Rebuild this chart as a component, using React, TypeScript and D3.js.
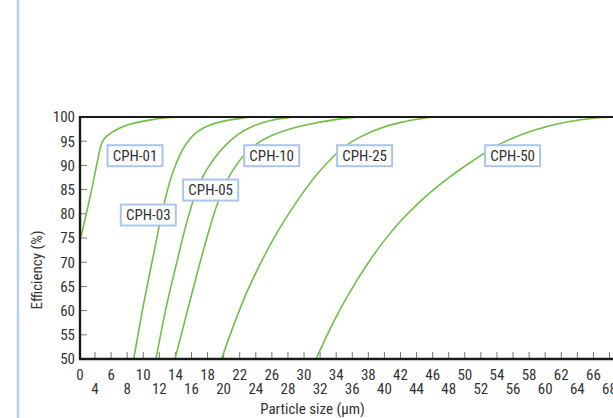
import React from "react";
import * as d3 from "d3";

// ---- data ----
const cph01: [number, number][] = [
  [0.27, 75.3], [2.05, 81.2], [3.39, 86.0], [4.21, 90.1], [4.62, 93.6], [4.96, 95.3],
  [5.58, 96.3], [6.61, 97.4], [8.27, 98.6], [10.75, 99.4], [13.24, 99.9], [14.1, 100],
];
const cph03: [number, number][] = [
  [8.81, 50], [9.81, 59.4], [10.63, 66.3], [11.46, 73.0], [12.0, 77.6], [12.42, 80.9],
  [13.04, 85.2], [13.66, 88.6], [14.49, 92.1], [15.32, 94.6], [16.56, 97.0], [18.22, 98.4],
  [19.88, 99.2], [23.3, 100],
];
const cph05: [number, number][] = [
  [11.59, 50], [12.5, 58.1], [13.33, 64.3], [14.16, 69.8], [14.98, 75.6], [15.9, 81.3],
  [17.06, 87.0], [18.7, 91.3], [20.3, 94.4], [21.8, 96.5], [23.3, 98.0], [26.0, 99.5], [28.7, 100],
];
const cph10: [number, number][] = [
  [13.95, 50], [15.41, 59.4], [16.65, 67.4], [18.22, 77.0], [19.55, 84.0], [21.2, 89.6],
  [23.28, 93.6], [25.36, 96.0], [29.5, 98.3], [34.47, 99.7], [37.0, 100],
];
const cph25: [number, number][] = [
  [19.74, 50], [20.79, 55.0], [22.04, 60.5], [23.28, 65.5], [26.4, 75.8], [29.5, 83.6],
  [31.58, 88.3], [34.06, 92.6], [35.7, 94.8], [38.6, 97.3], [41.9, 99.0], [46.0, 100],
];
const cph50: [number, number][] = [
  [31.5, 50], [33.64, 57.8], [35.72, 64.0], [37.79, 69.5], [39.86, 74.3], [41.93, 78.5],
  [44.0, 81.9], [46.08, 85.0], [48.15, 87.7], [50.23, 90.1], [52.3, 92.4], [54.37, 94.6],
  [58.51, 97.4], [62.67, 99.1], [66.8, 99.9], [68.0, 100],
];
const seriesNames = ["CPH-01", "CPH-03", "CPH-05", "CPH-10", "CPH-25", "CPH-50"];
const seriesData = [cph01, cph03, cph05, cph10, cph25, cph50];
// label box centres in data units
const labelX = [8.98, 10.63, 18.39, 25.98, 37.54, 55.95];
const labelY = [92.0, 79.75, 84.9, 92.0, 92.0, 92.0];

const xTickValues = d3.range(4, 69, 2);
const xLabelTop = [0, ...d3.range(6, 67, 4)];
const xLabelBottom = d3.range(4, 69, 4);
const yTickValues = d3.range(50, 101, 5);

const W = 613;
const H = 418;
const FONT = "'Liberation Sans Narrow','Arial Narrow','Roboto Condensed','DejaVu Sans Condensed',sans-serif";
const TEXT = "#333";
const GREEN = "#70bf47";
const BOXBLUE = "#a9c6ea";

export default function App() {
  const x = d3.scaleLinear().domain([0, 4, 68]).range([80, 95, 609.5]);
  const y = d3.scaleLinear().domain([50, 100]).range([359, 117]);
  const line = d3
    .line<[number, number]>()
    .x((d) => x(d[0]))
    .y((d) => y(d[1]))
    .curve(d3.curveBasis);

  const boxW = 55;
  const boxH = 21;

  return (
    <svg
      width={W}
      height={H}
      style={{ position: "absolute", left: 0, top: 0, background: "#fff" }}
      fontFamily={FONT}
    >
      <rect x={0} y={0} width={W} height={H} fill="#fff" />
      <line x1={18} x2={18} y1={0} y2={H} stroke="#b9d1ee" strokeWidth={2.5} />

      {/* x ticks (inward) */}
      {xTickValues.map((v) => (
        <line key={"xt" + v} x1={x(v)} x2={x(v)} y1={y(50)} y2={y(50) - 7} stroke="#777" strokeWidth={1} />
      ))}
      {/* y ticks (inward) */}
      {yTickValues.map((v) => (
        <line key={"yt" + v} x1={x(0)} x2={x(0) + 7} y1={y(v)} y2={y(v)} stroke="#777" strokeWidth={1} />
      ))}

      {/* curves */}
      {seriesData.map((d, i) => (
        <path key={seriesNames[i]} d={line(d) || ""} fill="none" stroke={GREEN} strokeWidth={1.6} />
      ))}

      {/* frame */}
      <line x1={x(0)} x2={W} y1={y(100)} y2={y(100)} stroke="#1a1a1a" strokeWidth={2.2} />
      <line x1={x(0) - 1} x2={W} y1={y(50)} y2={y(50)} stroke="#1a1a1a" strokeWidth={2.6} />
      <line x1={x(0)} x2={x(0)} y1={y(100) - 1} y2={y(50)} stroke="#1a1a1a" strokeWidth={2.4} />

      {/* y tick labels */}
      {yTickValues.map((v) => (
        <text key={"yl" + v} x={75} y={y(v)} dy="0.36em" textAnchor="end" fontSize={15} fill={TEXT} style={{ fontStretch: "condensed" }}>
          {v}
        </text>
      ))}
      {/* x tick labels */}
      {xLabelTop.map((v) => (
        <text key={"xlt" + v} x={x(v)} y={380} textAnchor="middle" fontSize={15} fill={TEXT} style={{ fontStretch: "condensed" }}>
          {v}
        </text>
      ))}
      {xLabelBottom.map((v) => (
        <text key={"xlb" + v} x={x(v)} y={394} textAnchor="middle" fontSize={15} fill={TEXT} style={{ fontStretch: "condensed" }}>
          {v}
        </text>
      ))}

      {/* axis titles */}
      <text x={312.5} y={414} textAnchor="middle" fontSize={15} fill={TEXT} style={{ fontStretch: "condensed" }}>
        Particle size (μm)
      </text>
      <text
        transform={`translate(42,270) rotate(-90)`}
        textAnchor="middle"
        fontSize={15}
        fill={TEXT}
        style={{ fontStretch: "condensed" }}
      >
        Efficiency (%)
      </text>

      {/* series label boxes */}
      {seriesNames.map((n, i) => {
        const cx = x(labelX[i]);
        const cy = y(labelY[i]);
        return (
          <g key={"lb" + n}>
            <rect
              x={cx - boxW / 2}
              y={cy - boxH / 2}
              width={boxW}
              height={boxH}
              fill="#fff"
              stroke={BOXBLUE}
              strokeWidth={2}
            />
            <text x={cx} y={cy} dy="0.36em" textAnchor="middle" fontSize={15} fill={TEXT} style={{ fontStretch: "condensed" }}>
              {n}
            </text>
          </g>
        );
      })}
    </svg>
  );
}
